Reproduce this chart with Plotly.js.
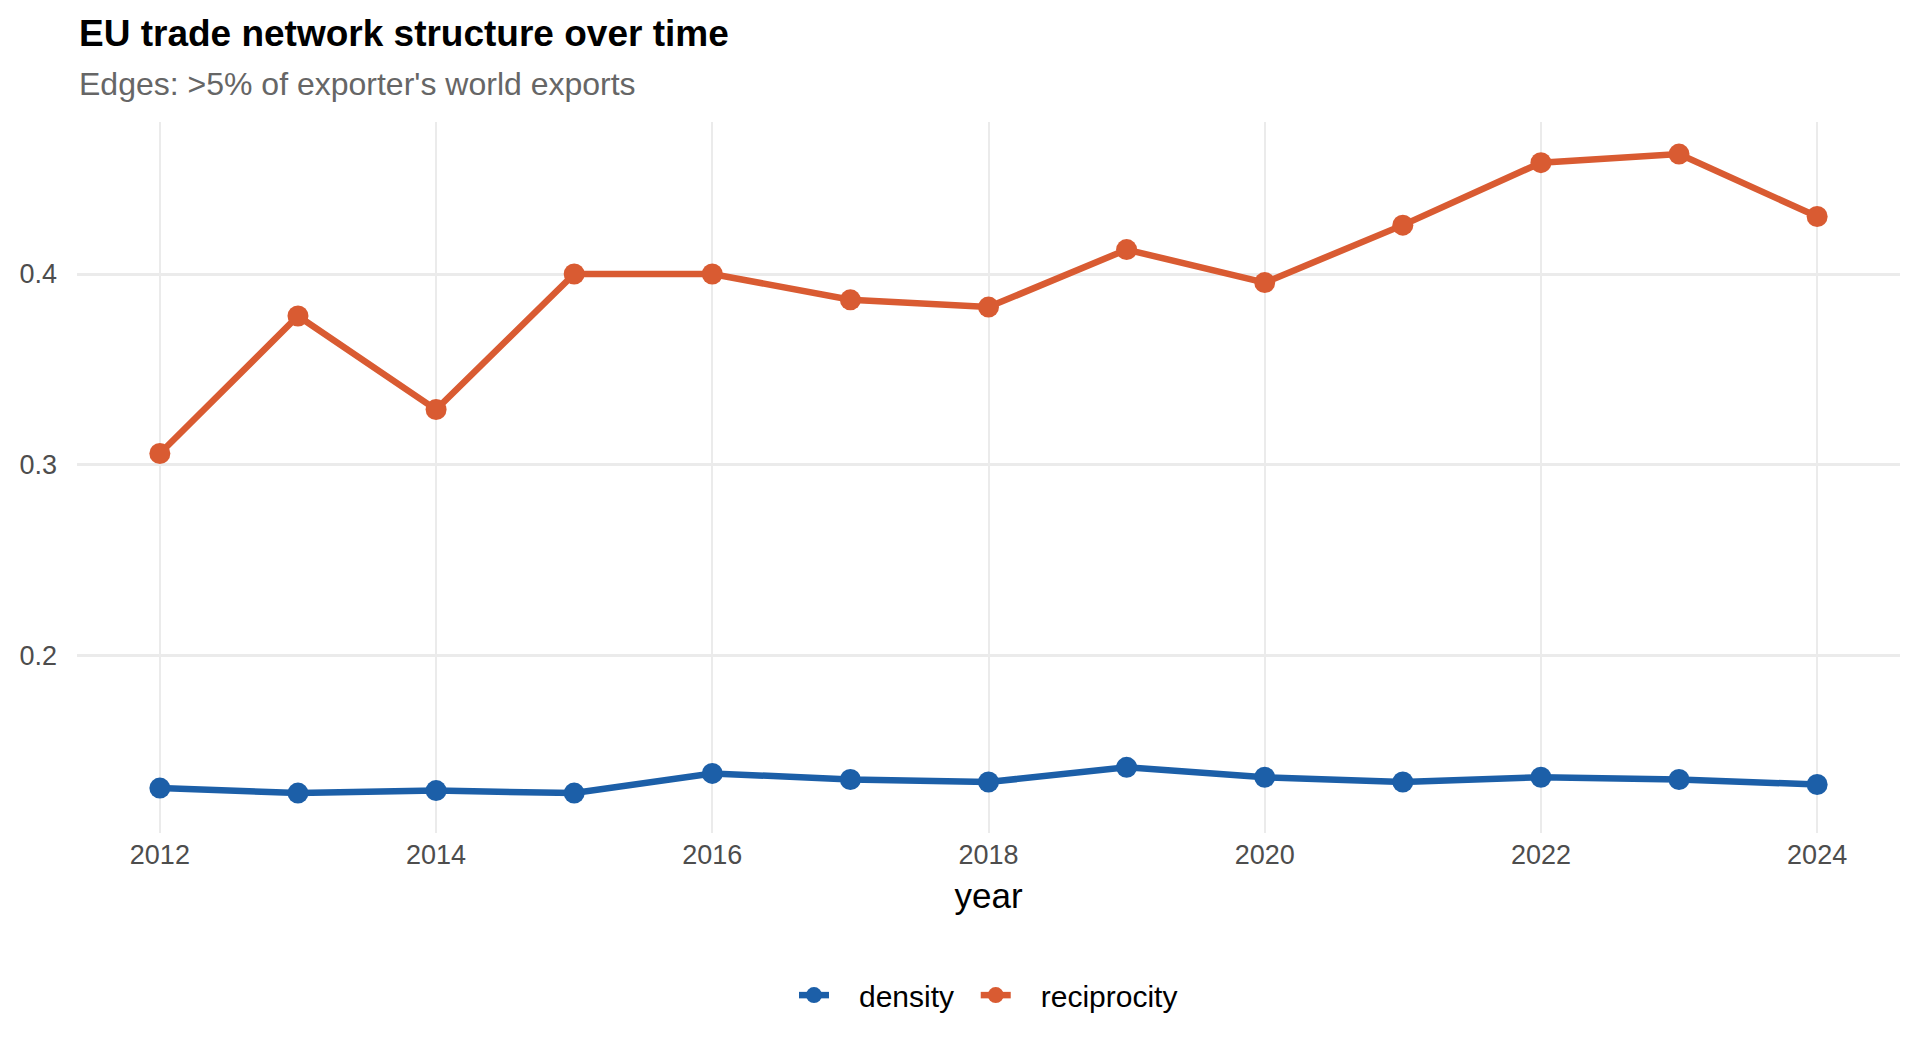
<!DOCTYPE html>
<html>
<head>
<meta charset="utf-8">
<script src="https://cdn.plot.ly/plotly-3.0.1.min.js"></script>
<style>
  html, body { margin: 0; padding: 0; background: #fff; }
  #chart { width: 1920px; height: 1056px; }
</style>
</head>
<body>
<div id="chart"></div>
<script>
// data
var years = [2012, 2013, 2014, 2015, 2016, 2017, 2018, 2019, 2020, 2021, 2022, 2023, 2024];
var density = [0.1308, 0.1282, 0.1295, 0.1282, 0.1385, 0.1353, 0.134, 0.1417, 0.1365, 0.134, 0.1365, 0.1353, 0.1327];
var reciprocity = [0.306, 0.378, 0.329, 0.400, 0.400, 0.3865, 0.3827, 0.4128, 0.3955, 0.4256, 0.4583, 0.4628, 0.4301];
var yTicks = [0.2, 0.3, 0.4];
var xTicks = [2012, 2014, 2016, 2018, 2020, 2022, 2024];

var blue = '#1c5fa8';
var orange = '#d95b32';
var nb = '\u00a0';

function makeTrace(name, yvals, color) {
  return {
    x: years, y: yvals, name: name,
    type: 'scatter', mode: 'lines+markers',
    line: {color: color, width: 6.5},
    marker: {color: color, size: 21}
  };
}

// padding in the legend labels to get ggplot-like spacing
var data = [
  makeTrace(nb + nb + nb + 'density' + nb + nb, density, blue),
  makeTrace(nb + nb + nb + 'reciprocity', reciprocity, orange)
];

var layout = {
  width: 1920, height: 1056,
  paper_bgcolor: '#fff', plot_bgcolor: '#fff',
  font: {family: 'Liberation Sans, Arial, sans-serif', color: '#4d4d4d'},
  margin: {l: 77, r: 20, t: 122, b: 223},
  annotations: [
    {
      text: '<b>EU trade network structure over time</b>',
      xref: 'paper', yref: 'paper', x: 0, y: 1.125,
      xanchor: 'left', yanchor: 'middle', showarrow: false,
      font: {size: 37, color: '#000'}
    },
    {
      text: 'Edges: >5% of exporter\'s world exports',
      xref: 'paper', yref: 'paper', x: 0, y: 1.053,
      xanchor: 'left', yanchor: 'middle', showarrow: false,
      font: {size: 32, color: '#666666'}
    }
  ],
  xaxis: {
    range: [2011.4, 2024.6],
    tickvals: xTicks, ticktext: xTicks.map(String),
    showgrid: true, gridcolor: '#ebebeb', gridwidth: 2,
    zeroline: false, showline: false, ticks: '',
    ticklabelstandoff: 3,
    tickfont: {size: 27, color: '#4d4d4d'},
    title: {text: 'year', font: {size: 35, color: '#000'}, standoff: 14}
  },
  yaxis: {
    range: [0.1073, 0.4796],
    tickvals: yTicks, ticktext: yTicks.map(function(v){ return v.toFixed(1); }),
    showgrid: true, gridcolor: '#ebebeb', gridwidth: 3,
    zeroline: false, showline: false, ticks: '',
    ticklabelstandoff: 19,
    tickfont: {size: 27, color: '#4d4d4d'}
  },
  showlegend: true,
  legend: {
    orientation: 'h', x: 0.5, xanchor: 'center', y: -0.228, yanchor: 'middle',
    font: {size: 30, color: '#000'}
  }
};

Plotly.newPlot('chart', data, layout, {displayModeBar: false, responsive: false});
</script>
</body>
</html>
